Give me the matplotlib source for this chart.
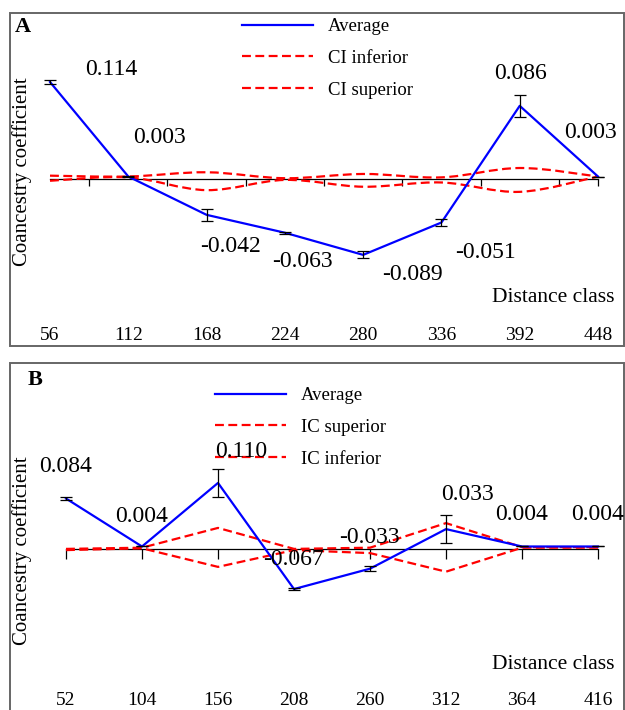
import matplotlib.pyplot as plt
import matplotlib.transforms as mtransforms
from matplotlib.lines import Line2D
from matplotlib.patches import Rectangle, PathPatch
from matplotlib.path import Path
import numpy as np

plt.rcParams['font.family'] = ['Liberation Serif', 'DejaVu Serif']

# Panel A data
dist_a = ['56', '112', '168', '224', '280', '336', '392', '448']
avg_a = [0.114, 0.003, -0.042, -0.063, -0.089, -0.051, 0.086, 0.003]
err_a = [0.002, 0.001, 0.007, 0.001, 0.004, 0.004, 0.013, 0.0]
ci_inf_a = [-0.002, 0.002, -0.013, -0.001, -0.009, -0.004, -0.015, 0.003]
ci_sup_a = [0.004, 0.003, 0.008, 0.001, 0.006, 0.002, 0.013, 0.003]

# Panel B data
dist_b = ['52', '104', '156', '208', '260', '312', '364', '416']
avg_b = [0.084, 0.004, 0.110, -0.067, -0.033, 0.033, 0.004, 0.004]
err_b = [0.002, 0.0, 0.024, 0.002, 0.004, 0.023, 0.0, 0.0]
ic_sup_b = [0.000, 0.002, 0.035, 0.000, 0.002, 0.043, 0.003, 0.003]
ic_inf_b = [-0.002, 0.001, -0.030, -0.002, -0.007, -0.038, 0.002, 0.002]

BLUE = '#0000ff'
RED = '#ff0000'
FRAME = '#666666'


def smooth_path(x, y):
    # Catmull-Rom through the points, drawn as cubic bezier segments
    pts = np.column_stack([x, y]).astype(float)
    verts = [pts[0]]
    codes = [Path.MOVETO]
    n = len(pts)
    for i in range(n - 1):
        p0 = pts[i - 1] if i > 0 else pts[i]
        p1 = pts[i]
        p2 = pts[i + 1]
        p3 = pts[i + 2] if i + 2 < n else pts[i + 1]
        verts += [p1 + (p2 - p0) / 6, p2 - (p3 - p1) / 6, p2]
        codes += [Path.CURVE4] * 3
    return Path(verts, codes)


def panel(ax, dist, avg, err, ci1, ci2, names, smooth, tick_pos, tick_len,
          offsets, letter, letter_xy, ylab_y, dc_y, lab_y, leg_anchor):
    x = np.arange(len(dist))
    ax.spines[['top', 'left', 'right']].set_visible(False)
    ax.spines['bottom'].set_position(('data', 0))
    ax.spines['bottom'].set_bounds(x[0], x[-1])
    ax.spines['bottom'].set_linewidth(0.9)
    ax.set_yticks([])
    ax.set_xticks(tick_pos)
    ax.tick_params(axis='x', length=tick_len, width=0.9, labelbottom=False)
    ax.add_patch(Rectangle((0, 0), 1, 1, transform=ax.transAxes, fill=False,
                           edgecolor=FRAME, lw=1.4, clip_on=False))

    for ci in (ci1, ci2):
        if smooth:
            ax.add_patch(PathPatch(smooth_path(x, ci), fill=False, edgecolor=RED,
                                   lw=1.6, linestyle=(0, (4, 2)), zorder=3))
        else:
            ax.plot(x, ci, color=RED, lw=1.6, linestyle=(0, (4, 2)), zorder=3)
    ax.plot(x, avg, color=BLUE, lw=1.6, zorder=4)
    ax.errorbar(x, avg, yerr=err, fmt='none', ecolor='black', elinewidth=0.9,
                capsize=4, capthick=0.9, zorder=5)

    for xi, v, off in zip(x, avg, offsets):
        ax.annotate(f'{v:.3f}', (xi, v), xytext=off, textcoords='offset pixels',
                    ha='center', va='center', fontsize=17, zorder=6)

    trans = mtransforms.blended_transform_factory(ax.transData, ax.transAxes)
    for xi, lab in zip(x, dist):
        ax.text(xi, lab_y, lab, transform=trans, ha='center', va='center', fontsize=14)

    ax.text(letter_xy[0], letter_xy[1], letter, transform=ax.transAxes, fontsize=16,
            fontweight='bold', ha='left', va='center')
    ax.text(0.0195, ylab_y, 'Coancestry coefficient', transform=ax.transAxes,
            rotation=90, ha='center', va='center', fontsize=15)
    ax.text(0.985, dc_y, 'Distance class', transform=ax.transAxes,
            ha='right', va='center', fontsize=15.5)

    handles = [Line2D([], [], color=BLUE, lw=1.6),
               Line2D([], [], color=RED, lw=1.6, linestyle=(0, (4, 2))),
               Line2D([], [], color=RED, lw=1.6, linestyle=(0, (4, 2)))]
    ax.legend(handles, names, loc='upper left', bbox_to_anchor=leg_anchor,
              bbox_transform=fig.transFigure, frameon=False, fontsize=13.5,
              handlelength=3.8, handletextpad=0.8, labelspacing=0.78, borderpad=0,
              borderaxespad=0)


fig = plt.figure(figsize=(6.25, 7.1), dpi=100)

ax_a = fig.add_axes([10 / 625, 1 - 346 / 710, 614 / 625, 333 / 710])
ax_a.set_xlim(-0.511, 7.332)
ax_a.set_ylim(-0.196, 0.195)
panel(ax_a, dist_a, avg_a, err_a, ci_inf_a, ci_sup_a,
      ['Average', 'CI inferior', 'CI superior'], True,
      list(np.arange(7) + 0.5) + [7], 5,
      [(61, 12), (31, 39), (24, -32), (18, -29), (49, -20), (44, -30), (1, 32), (-8, 44)],
      'A', (0.008, 0.958), 0.523, 0.147, 0.033, (242 / 625, 1 - 18 / 710))

ax_b = fig.add_axes([10 / 625, -2 / 710, 614 / 625, 349 / 710])
ax_b.set_xlim(-0.737, 7.342)
ax_b.set_ylim(-0.272, 0.31)
panel(ax_b, dist_b, avg_b, err_b, ic_sup_b, ic_inf_b,
      ['Average', 'IC superior', 'IC inferior'], False,
      list(np.arange(8)), 7,
      [(0, 32), (0, 30), (23, 31), (-1, 30), (-1, 31), (21, 35), (0, 32), (0, 32)],
      'B', (0.028, 0.951), 0.461, 0.1375, 0.034, (215 / 625, 1 - 387 / 710))

fig.savefig('out.png', dpi=100)
